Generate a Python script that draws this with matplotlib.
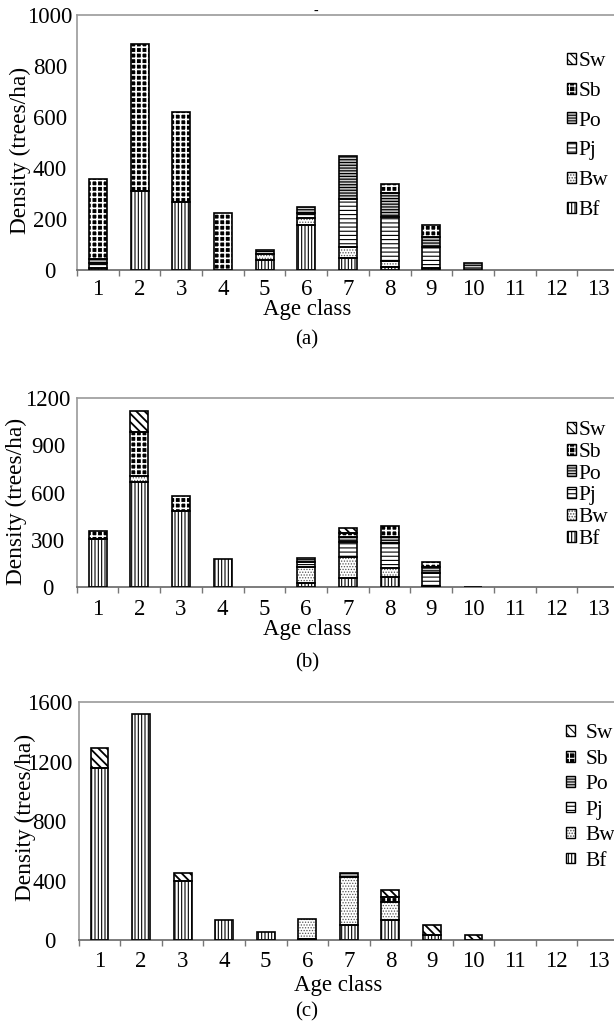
import matplotlib
matplotlib.use('Agg')
import matplotlib.pyplot as plt
from matplotlib.patches import Patch
from matplotlib.legend_handler import HandlerTuple
import numpy as np

plt.rcParams['font.family'] = ['Liberation Serif', 'DejaVu Serif']
plt.rcParams['hatch.linewidth'] = 0.8

age_classes = list(range(1, 14))
species = ['Bf', 'Bw', 'Pj', 'Po', 'Sb', 'Sw']

# panel (a)
a_Bf = [8, 310, 265, 0, 40, 176, 46, 10, 8, 0, 0, 0, 0]
a_Bw = [0, 0, 0, 0, 22, 28, 43, 26, 0, 0, 0, 0, 0]
a_Pj = [20, 0, 0, 0, 0, 20, 188, 173, 82, 0, 0, 0, 0]
a_Po = [15, 0, 0, 0, 16, 24, 171, 92, 41, 26, 0, 0, 0]
a_Sb = [314, 578, 353, 225, 0, 0, 0, 35, 45, 0, 0, 0, 0]
a_Sw = [0, 0, 0, 0, 0, 0, 0, 0, 0, 0, 0, 0, 0]

# panel (b)
b_Bf = [305, 667, 485, 178, 0, 25, 57, 67, 8, 0, 0, 0, 0]
b_Bw = [0, 40, 0, 0, 0, 106, 137, 53, 0, 0, 0, 0, 0]
b_Pj = [0, 0, 0, 0, 0, 29, 96, 159, 82, 0, 0, 0, 0]
b_Po = [0, 0, 0, 0, 0, 24, 31, 42, 41, 5, 0, 0, 0]
b_Sb = [50, 275, 95, 0, 0, 0, 22, 68, 28, 0, 0, 0, 0]
b_Sw = [0, 133, 0, 0, 0, 0, 35, 0, 0, 0, 0, 0, 0]

# panel (c)
c_Bf = [1160, 1520, 400, 135, 52, 8, 101, 135, 34, 0, 0, 0, 0]
c_Bw = [0, 0, 0, 0, 0, 133, 325, 123, 0, 0, 0, 0, 0]
c_Pj = [0, 0, 0, 0, 0, 0, 0, 0, 0, 0, 0, 0, 0]
c_Po = [0, 0, 0, 0, 0, 0, 27, 0, 0, 0, 0, 0, 0]
c_Sb = [0, 0, 0, 0, 0, 0, 0, 33, 0, 0, 0, 0, 0]
c_Sw = [135, 0, 48, 0, 0, 0, 0, 46, 67, 34, 0, 0, 0]

yticks_a = [0, 200, 400, 600, 800, 1000]
yticks_b = [0, 300, 600, 900, 1200]
yticks_c = [0, 400, 800, 1200, 1600]

styles = {
    'Bf': dict(hatch='|||||', face='white', hc='black', hlw=0.8),
    'Bw': dict(hatch='......', face='white', hc='#555555', hlw=0.6),
    'Pj': dict(hatch='----', face='white', hc='black', hlw=0.8),
    'Po': dict(hatch='------', face='#cccccc', hc='black', hlw=0.9),
    'Sb': dict(hatch='+++', face='black', hc='white', hlw=1.2),
    'Sw': dict(hatch='\\\\\\\\', face='white', hc='black', hlw=1.3),
}

W, H = 614, 1032
fig = plt.figure(figsize=(W / 100, H / 100), dpi=100)
FS = 16.5
LFS = 15.5


def px_axes(left, top, right, bottom):
    return fig.add_axes([left / W, 1 - bottom / H, (right - left) / W, (bottom - top) / H])


def draw_panel(ax, data, yticks, xpad, ylab_pad, leg_anchor, leg_spacing, leg_textpad):
    x = np.array(age_classes, dtype=float)
    bottom = np.zeros(len(x))
    width = 0.43
    for sp in species:
        vals = np.array(data[sp], dtype=float)
        m = vals > 0
        st = styles[sp]
        with plt.rc_context({'hatch.linewidth': st['hlw']}):
            ax.bar(x[m], vals[m], width, bottom=bottom[m], color=st['face'],
                   edgecolor=st['hc'], hatch=st['hatch'], linewidth=0, zorder=2)
        ax.bar(x[m], vals[m], width, bottom=bottom[m], fill=False,
               edgecolor='black', linewidth=1.2, zorder=3)
        bottom += vals
    ax.set_xlim(0.5, 13.5)
    ax.set_ylim(yticks[0], yticks[-1])
    ax.set_xticks(age_classes)
    ax.set_xticklabels([str(a) for a in age_classes], fontsize=FS)
    ax.set_xticks(np.arange(0.5, 14, 1.0), minor=True)
    ax.tick_params(axis='x', which='major', length=0, pad=xpad)
    ax.tick_params(axis='x', which='minor', length=4, width=1, color='#777777', direction='out')
    ax.set_yticks(yticks)
    ax.set_yticklabels([str(v) for v in yticks], fontsize=FS)
    ax.tick_params(axis='y', length=0, pad=ylab_pad)
    for lbl in ax.get_yticklabels():
        lbl.set_horizontalalignment('center')
    ax.spines['right'].set_visible(False)
    for s in ['top', 'left']:
        ax.spines[s].set_color('#999999')
        ax.spines[s].set_linewidth(1.2)
    ax.spines['bottom'].set_color('#666666')
    ax.spines['bottom'].set_linewidth(1.2)
    handles = []
    labels = []
    for sp in species[::-1]:
        st = styles[sp]
        with plt.rc_context({'hatch.linewidth': st['hlw']}):
            h1 = Patch(facecolor=st['face'], edgecolor=st['hc'], hatch=st['hatch'], linewidth=0)
        h2 = Patch(fill=False, edgecolor='black', linewidth=1.0)
        handles.append((h1, h2))
        labels.append(sp)
    ax.legend(handles, labels, loc='center left', bbox_to_anchor=leg_anchor,
              frameon=False, fontsize=LFS, handlelength=0.4, handleheight=0.4,
              handletextpad=leg_textpad, labelspacing=leg_spacing, borderpad=0,
              borderaxespad=0, handler_map={tuple: HandlerTuple(ndivide=1)})


ax_a = px_axes(77, 15, 619, 270)
draw_panel(ax_a, dict(Bf=a_Bf, Bw=a_Bw, Pj=a_Pj, Po=a_Po, Sb=a_Sb, Sw=a_Sw),
           yticks_a, 6.5, 19.4, ((567 - 77) / 542, (270 - 136) / 255), 0.5, 0.15)
ax_b = px_axes(76.7, 398, 619, 587.3)
draw_panel(ax_b, dict(Bf=b_Bf, Bw=b_Bw, Pj=b_Pj, Po=b_Po, Sb=b_Sb, Sw=b_Sw),
           yticks_b, 8.6, 20.7, ((567 - 76.7) / 542.3, (587.3 - 485) / 189.3), 0.13, 0.15)
ax_c = px_axes(78.7, 702.3, 619, 940)
draw_panel(ax_c, dict(Bf=c_Bf, Bw=c_Bw, Pj=c_Pj, Po=c_Po, Sb=c_Sb, Sw=c_Sw),
           yticks_c, 8.0, 21, ((566 - 78.7) / 540.3, (940 - 797.5) / 237.7), 0.3, 0.5)


def ftext(xp, yp, s, **kw):
    fig.text(xp / W, 1 - yp / H, s, ha='center', va='center', **kw)


ftext(20, 150, 'Density (trees/ha)', rotation=90, fontsize=16.8)
ftext(16, 501, 'Density (trees/ha)', rotation=90, fontsize=16.8)
ftext(25, 817, 'Density (trees/ha)', rotation=90, fontsize=16.8)
ftext(307, 309, 'Age class', fontsize=16.5)
ftext(307, 630, 'Age class', fontsize=16.5)
ftext(338, 986, 'Age class', fontsize=16.5)
ftext(307, 340, '(a)', fontsize=15)
ftext(307, 663, '(b)', fontsize=15)
ftext(307, 1012, '(c)', fontsize=15)
ftext(316, 11, '-', fontsize=10)

fig.savefig('out.png', dpi=100)
